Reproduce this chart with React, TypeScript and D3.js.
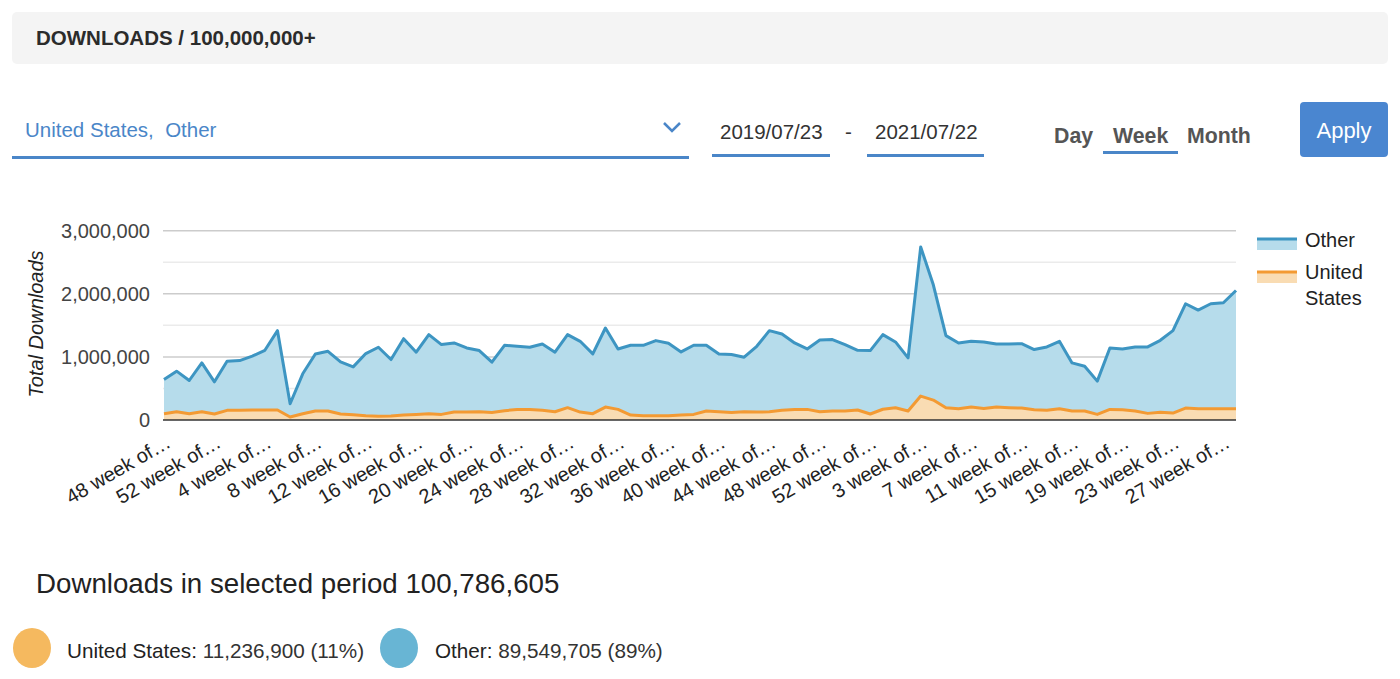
import React from "react";
import * as d3 from "d3";

const categories: string[] = [
  "48 week of 2019", "49 week of 2019", "50 week of 2019", "51 week of 2019", "52 week of 2019",
  "1 week of 2020", "2 week of 2020", "3 week of 2020", "4 week of 2020", "5 week of 2020",
  "6 week of 2020", "7 week of 2020", "8 week of 2020", "9 week of 2020", "10 week of 2020",
  "11 week of 2020", "12 week of 2020", "13 week of 2020", "14 week of 2020", "15 week of 2020",
  "16 week of 2020", "17 week of 2020", "18 week of 2020", "19 week of 2020", "20 week of 2020",
  "21 week of 2020", "22 week of 2020", "23 week of 2020", "24 week of 2020", "25 week of 2020",
  "26 week of 2020", "27 week of 2020", "28 week of 2020", "29 week of 2020", "30 week of 2020",
  "31 week of 2020", "32 week of 2020", "33 week of 2020", "34 week of 2020", "35 week of 2020",
  "36 week of 2020", "37 week of 2020", "38 week of 2020", "39 week of 2020", "40 week of 2020",
  "41 week of 2020", "42 week of 2020", "43 week of 2020", "44 week of 2020", "45 week of 2020",
  "46 week of 2020", "47 week of 2020", "48 week of 2020", "49 week of 2020", "50 week of 2020",
  "51 week of 2020", "52 week of 2020", "53 week of 2020", "1 week of 2021", "2 week of 2021",
  "3 week of 2021", "4 week of 2021", "5 week of 2021", "6 week of 2021", "7 week of 2021",
  "8 week of 2021", "9 week of 2021", "10 week of 2021", "11 week of 2021", "12 week of 2021",
  "13 week of 2021", "14 week of 2021", "15 week of 2021", "16 week of 2021", "17 week of 2021",
  "18 week of 2021", "19 week of 2021", "20 week of 2021", "21 week of 2021", "22 week of 2021",
  "23 week of 2021", "24 week of 2021", "25 week of 2021", "26 week of 2021", "27 week of 2021",
  "28 week of 2021",
];

// weekly downloads, United States
const usValues: number[] = [
  100000, 130000, 100000, 130000, 95000, 153000, 153000, 158000, 158000, 158000,
  47000, 100000, 142000, 142000, 95000, 84000, 68000, 58000, 63000, 79000,
  89000, 100000, 89000, 126000, 126000, 130000, 120000, 147000, 168000, 168000,
  153000, 130000, 195000, 126000, 100000, 205000, 168000, 79000, 68000, 68000,
  68000, 79000, 89000, 142000, 130000, 120000, 130000, 126000, 130000, 153000,
  168000, 168000, 130000, 142000, 142000, 158000, 95000, 170000, 195000, 142000,
  379000, 316000, 195000, 179000, 205000, 184000, 205000, 195000, 189000, 163000,
  153000, 179000, 142000, 142000, 89000, 168000, 163000, 142000, 105000, 121000,
  110000, 189000, 179000, 179000, 179000, 179000,
];

// weekly downloads, Other (stacked above United States)
const otherValues: number[] = [
  542000, 644000, 526000, 775000, 510000, 779000, 789000, 853000, 947000, 1258000,
  211000, 632000, 905000, 947000, 826000, 758000, 985000, 1095000, 895000, 1210000,
  985000, 1253000, 1106000, 1095000, 1016000, 970000, 796000, 1037000, 1000000, 985000,
  1052000, 944000, 1158000, 1121000, 947000, 1253000, 958000, 1105000, 1116000, 1190000,
  1148000, 1000000, 1095000, 1042000, 917000, 917000, 865000, 1042000, 1286000, 1210000,
  1053000, 958000, 1138000, 1132000, 1053000, 947000, 1005000, 1183000, 1042000, 842000,
  2363000, 1826000, 1142000, 1042000, 1042000, 1053000, 1000000, 1010000, 1021000, 953000,
  1005000, 1068000, 763000, 711000, 527000, 974000, 963000, 1016000, 1053000, 1142000,
  1306000, 1653000, 1563000, 1663000, 1679000, 1874000,
];

const seriesNames: string[] = ["United States", "Other"];
const yTicks: number[] = [0, 1000000, 2000000, 3000000];
const yGridMinor: number[] = [500000, 1500000, 2500000];
const granularities: string[] = ["Day", "Week", "Month"];
const totalsText = { total: "100,786,605", us: "11,236,900 (11%)", other: "89,549,705 (89%)" };

const FONT = '"Helvetica Neue", Helvetica, Arial, "Liberation Sans", sans-serif';
const BLUE_UI = "#4a86c8";

let measureCtx: CanvasRenderingContext2D | null = null;
function measure(text: string, size: number): number {
  if (!measureCtx) {
    const c = document.createElement("canvas");
    measureCtx = c.getContext("2d");
  }
  if (!measureCtx) return text.length * size * 0.5;
  measureCtx.font = `${size}px "Liberation Sans", Arial, sans-serif`;
  return measureCtx.measureText(text).width;
}

function truncate(label: string, size: number, maxW: number): string {
  if (measure(label, size) <= maxW) return label;
  let s = label;
  while (s.length > 1 && measure(s.trimEnd() + "…", size) > maxW) s = s.slice(0, -1);
  return s.trimEnd() + "…";
}

export default function App() {
  const x0 = 164, x1 = 1236, yBase = 420, yTop = 230.7;
  const x = d3.scalePoint<string>().domain(categories).range([x0, x1]);
  const y = d3.scaleLinear().domain([0, 3000000]).range([yBase, yTop]);

  const rows = categories.map((c, i) => ({ cat: c, us: usValues[i], other: otherValues[i] }));
  const stack = d3.stack<any>().keys(["us", "other"]);
  const layers = stack(rows);

  const area = d3.area<any>()
    .x((d) => x(d.data.cat) as number)
    .y0((d) => y(d[0]))
    .y1((d) => y(d[1]));
  const line = d3.line<any>()
    .x((d) => x(d.data.cat) as number)
    .y((d) => y(d[1]));

  const colors = {
    us: { line: "#f39a33", fill: "#f9dcb3" },
    other: { line: "#3d95c2", fill: "#b6dceb" },
  };

  const labelSize = 20;
  const maxLabelW = measure("48 week of", labelSize) + measure("…", labelSize) + 1;
  const fmt = d3.format(",");

  return (
    <svg width={1400} height={679} style={{ position: "absolute", left: 0, top: 0 }} fontFamily={FONT}>
      <rect width={1400} height={679} fill="#ffffff" />
      {/* header */}
      <rect x={12} y={12} width={1376} height={52} rx={5} fill="#f4f4f4" />
      <text x={36} y={45} fontSize={20.5} fontWeight="bold" fill="#2b2b2b">DOWNLOADS / 100,000,000+</text>

      {/* country selector */}
      <text x={25} y={137} fontSize={20.5} fill={BLUE_UI}>United States,{"\u00a0\u00a0"}Other</text>
      <path d="M664,123 L672,131 L680,123" fill="none" stroke={BLUE_UI} strokeWidth={2.5} />
      <rect x={12} y={156} width={677} height={3} fill={BLUE_UI} />

      {/* dates */}
      <text x={720} y={139} fontSize={20.5} fill="#333">2019/07/23</text>
      <rect x={712} y={154} width={118} height={3} fill={BLUE_UI} />
      <text x={845} y={139} fontSize={20.5} fill="#333">-</text>
      <text x={875} y={139} fontSize={20.5} fill="#333">2021/07/22</text>
      <rect x={867} y={154} width={117} height={3} fill={BLUE_UI} />

      {/* granularity */}
      {granularities.map((g, i) => (
        <text key={g} x={[1054, 1113, 1187][i]} y={143} fontSize={21.3} fontWeight="bold" fill="#555">{g}</text>
      ))}
      <rect x={1103} y={151} width={75} height={3} fill={BLUE_UI} />

      {/* apply */}
      <rect x={1300} y={102} width={88} height={55} rx={4} fill="#4a86d0" />
      <text x={1344} y={138} fontSize={22} fill="#fff" textAnchor="middle">Apply</text>

      {/* grid */}
      {yGridMinor.map((v) => (
        <line key={"m" + v} x1={x0 - 1} x2={x1} y1={y(v)} y2={y(v)} stroke="#ebebeb" strokeWidth={1.5} />
      ))}
      {yTicks.filter((v) => v > 0).map((v) => (
        <line key={"g" + v} x1={x0 - 1} x2={x1} y1={y(v)} y2={y(v)} stroke="#cccccc" strokeWidth={1.5} />
      ))}
      {yTicks.map((v) => (
        <text key={"t" + v} x={150} y={y(v) + 7} fontSize={20} fill="#444" textAnchor="end">{fmt(v)}</text>
      ))}
      <text transform={`translate(43,324) rotate(-90)`} fontSize={20} fontStyle="italic" fill="#222" textAnchor="middle">Total Downloads</text>

      {/* areas */}
      {layers.map((layer) => {
        const key = layer.key as "us" | "other";
        return <path key={"a" + key} d={area(layer as any) || ""} fill={colors[key].fill} />;
      })}
      {layers.map((layer) => {
        const key = layer.key as "us" | "other";
        return <path key={"l" + key} d={line(layer as any) || ""} fill="none" stroke={colors[key].line} strokeWidth={3} strokeLinejoin="round" />;
      })}
      <line x1={x0 - 1} x2={x1} y1={yBase} y2={yBase} stroke="#333" strokeWidth={1.5} />

      {/* x labels */}
      {categories.map((c, i) => i % 4 === 0 ? (
        <text key={"x" + c} transform={`translate(${(x(c) as number) + 1},${434}) rotate(-30)`} fontSize={labelSize} fill="#222" textAnchor="end" dy="0.7em">
          {truncate(c, labelSize, maxLabelW)}
        </text>
      ) : null)}

      {/* legend */}
      <rect x={1257} y={239} width={40} height={11} fill={colors.other.fill} />
      <line x1={1257} x2={1297} y1={239} y2={239} stroke={colors.other.line} strokeWidth={3} />
      <text x={1305} y={247} fontSize={20} fill="#222">{seriesNames[1]}</text>
      <rect x={1257} y={272} width={40} height={11} fill={colors.us.fill} />
      <line x1={1257} x2={1297} y1={272} y2={272} stroke={colors.us.line} strokeWidth={3} />
      <text x={1305} y={279} fontSize={20} fill="#222">United</text>
      <text x={1305} y={305} fontSize={20} fill="#222">States</text>

      {/* totals */}
      <text x={36} y={593} fontSize={27.7} fill="#222">Downloads in selected period {totalsText.total}</text>
      <ellipse cx={32} cy={648} rx={19} ry={20} fill="#f5b95f" />
      <text x={67} y={658} fontSize={20.7} fill="#333"><tspan fill="#222">{seriesNames[0]}:</tspan> {totalsText.us}</text>
      <ellipse cx={399} cy={648} rx={19} ry={20} fill="#68b5d4" />
      <text x={435} y={658} fontSize={20.7} fill="#333"><tspan fill="#222">{seriesNames[1]}:</tspan> {totalsText.other}</text>
    </svg>
  );
}
